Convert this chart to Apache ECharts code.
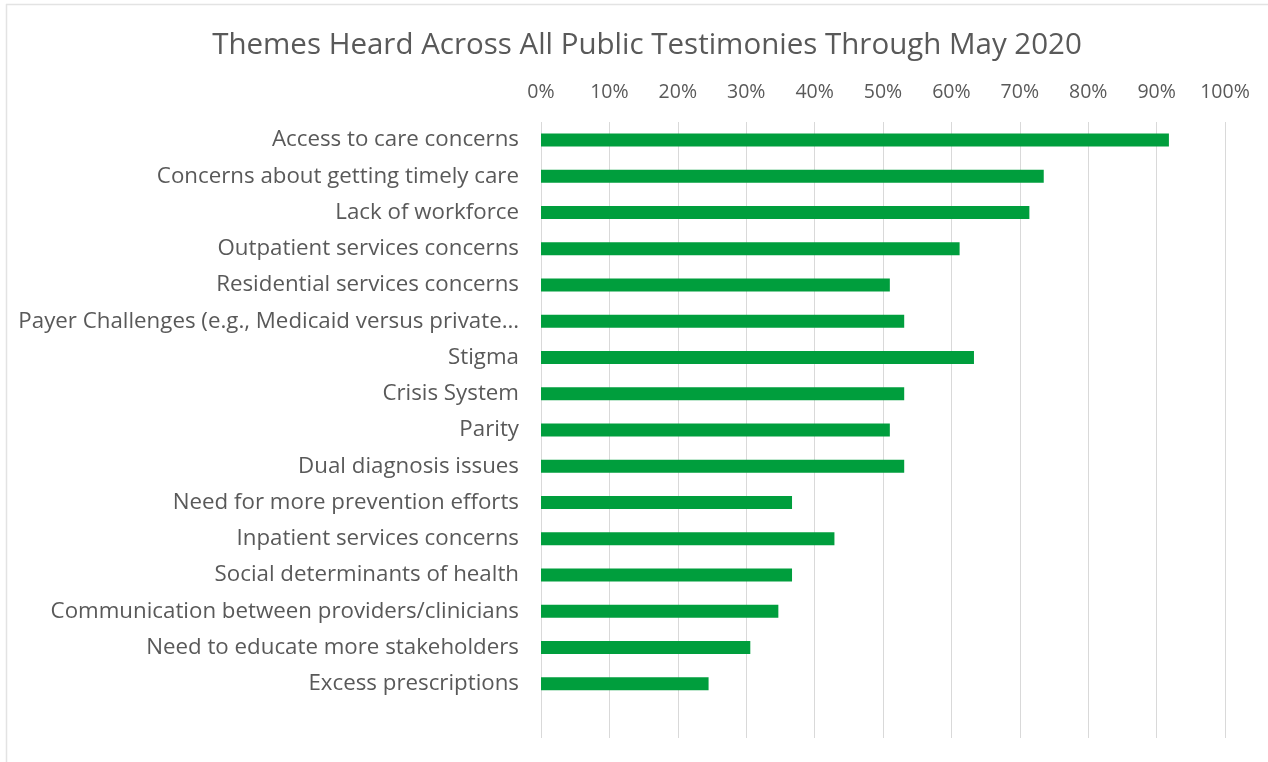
<!DOCTYPE html>
<html>
<head>
<meta charset="utf-8">
<script src="https://cdn.jsdelivr.net/npm/echarts@6/dist/echarts.min.js"></script>
<style>
  html, body { margin: 0; padding: 0; background: #fff; }
  #chart { width: 1268px; height: 762px; }
</style>
</head>
<body>
<div id="chart"></div>
<script>
// Themes heard in public testimonies, share of testimonies (%)
const themes = [
  'Access to care concerns',
  'Concerns about getting timely care',
  'Lack of workforce',
  'Outpatient services concerns',
  'Residential services concerns',
  'Payer Challenges (e.g., Medicaid versus private…',
  'Stigma',
  'Crisis System',
  'Parity',
  'Dual diagnosis issues',
  'Need for more prevention efforts',
  'Inpatient services concerns',
  'Social determinants of health',
  'Communication between providers/clinicians',
  'Need to educate more stakeholders',
  'Excess prescriptions'
];
const sharePct = [91.8, 73.5, 71.4, 61.2, 51.0, 53.1, 63.3, 53.1, 51.0, 53.1, 36.7, 42.9, 36.7, 34.7, 30.6, 24.5];
const titleText = 'Themes Heard Across All Public Testimonies Through May 2020';

const textColor = '#595959';
const fontFam = '"Open Sans", sans-serif';

const chart = echarts.init(document.getElementById('chart'), null, { renderer: 'canvas' });
chart.setOption({
  animation: false,
  backgroundColor: '#ffffff',
  title: {
    text: titleText,
    left: 642,
    textAlign: 'center',
    top: 26,
    textStyle: { color: textColor, fontSize: 29.5, fontWeight: 'normal', fontFamily: fontFam }
  },
  graphic: [
    { type: 'line', shape: { x1: 6, y1: 4.5, x2: 1268, y2: 4.5 }, style: { stroke: '#e3e3e3', lineWidth: 1.5 } },
    { type: 'line', shape: { x1: 6.5, y1: 4, x2: 6.5, y2: 762 }, style: { stroke: '#e3e3e3', lineWidth: 1.5 } }
  ],
  grid: { left: 541, right: 43, top: 122, bottom: 24, containLabel: false },
  xAxis: {
    type: 'value',
    position: 'top',
    min: 0,
    max: 100,
    interval: 10,
    axisLine: { show: false },
    axisTick: { show: false },
    axisLabel: {
      formatter: '{value}%',
      color: textColor,
      fontSize: 19.5,
      fontFamily: fontFam,
      margin: 20
    },
    splitLine: { show: true, lineStyle: { color: '#d9d9d9', width: 1 } }
  },
  yAxis: {
    type: 'category',
    data: themes,
    inverse: true,
    max: themes.length,
    axisLine: { show: false },
    axisTick: { show: false },
    axisLabel: {
      color: textColor,
      fontSize: 22.3,
      fontFamily: fontFam,
      margin: 22
    },
    splitLine: { show: false }
  },
  series: [{
    type: 'bar',
    data: sharePct,
    barWidth: 13,
    itemStyle: { color: '#009e3d' }
  }]
});
</script>
</body>
</html>
